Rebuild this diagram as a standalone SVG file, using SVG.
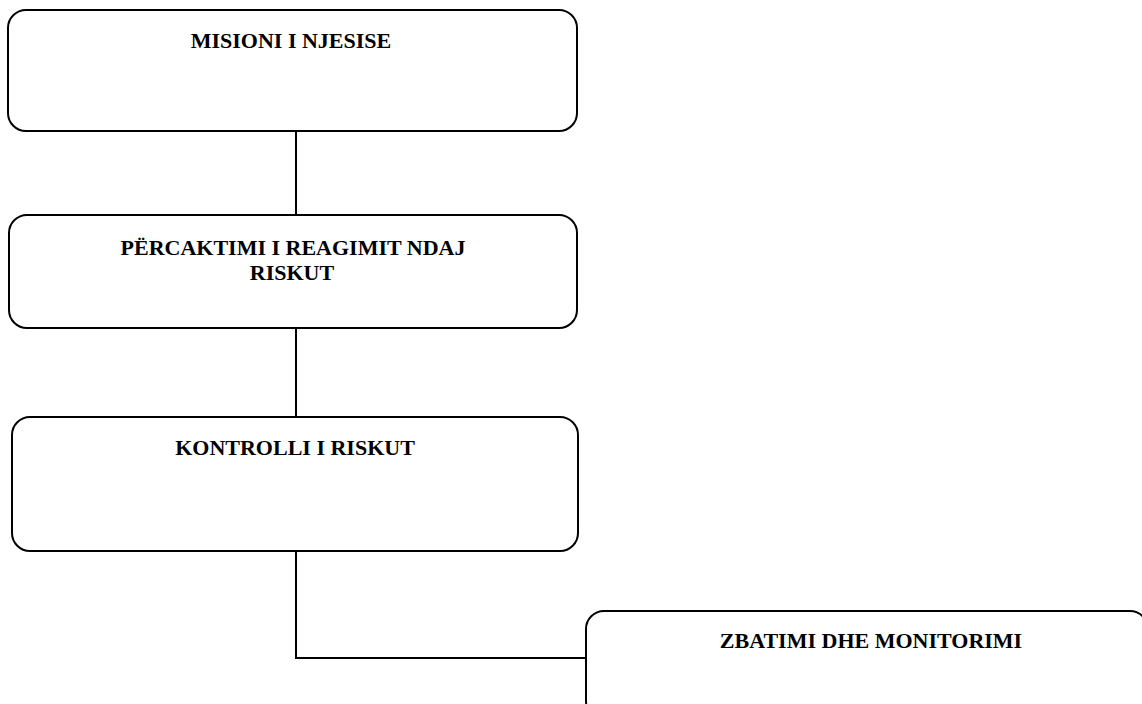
<svg xmlns="http://www.w3.org/2000/svg" width="1142" height="704" viewBox="0 0 1142 704">
<style>
.box{fill:#fff;stroke:#000;stroke-width:2}
.lbl{font-family:"Liberation Serif","Times New Roman",serif;font-weight:bold;font-size:22px;fill:#000;text-anchor:middle}
.conn{fill:none;stroke:#000;stroke-width:2}
</style>
<rect width="1142" height="704" fill="#fff"/>
<g id="connectors">
<line class="conn" x1="296" y1="131" x2="296" y2="215"/>
<line class="conn" x1="296" y1="328" x2="296" y2="417"/>
<polyline class="conn" points="296,551 296,658 586,658"/>
</g>
<g id="node-misioni">
<rect class="box" x="8" y="10" width="569" height="121" rx="18" ry="18"/>
<text class="lbl" x="291" y="48">MISIONI I NJESISE</text>
</g>
<g id="node-percaktimi">
<rect class="box" x="9" y="215" width="568" height="113" rx="18" ry="18"/>
<text class="lbl" x="293" y="255">PËRCAKTIMI I REAGIMIT NDAJ</text>
<text class="lbl" x="292" y="280">RISKUT</text>
</g>
<g id="node-kontrolli">
<rect class="box" x="12" y="417" width="566" height="134" rx="18" ry="18"/>
<text class="lbl" x="295" y="455">KONTROLLI I RISKUT</text>
</g>
<g id="node-zbatimi">
<rect class="box" x="586" y="611" width="562" height="108" rx="18" ry="18"/>
<text class="lbl" x="871" y="648">ZBATIMI DHE MONITORIMI</text>
</g>
</svg>
